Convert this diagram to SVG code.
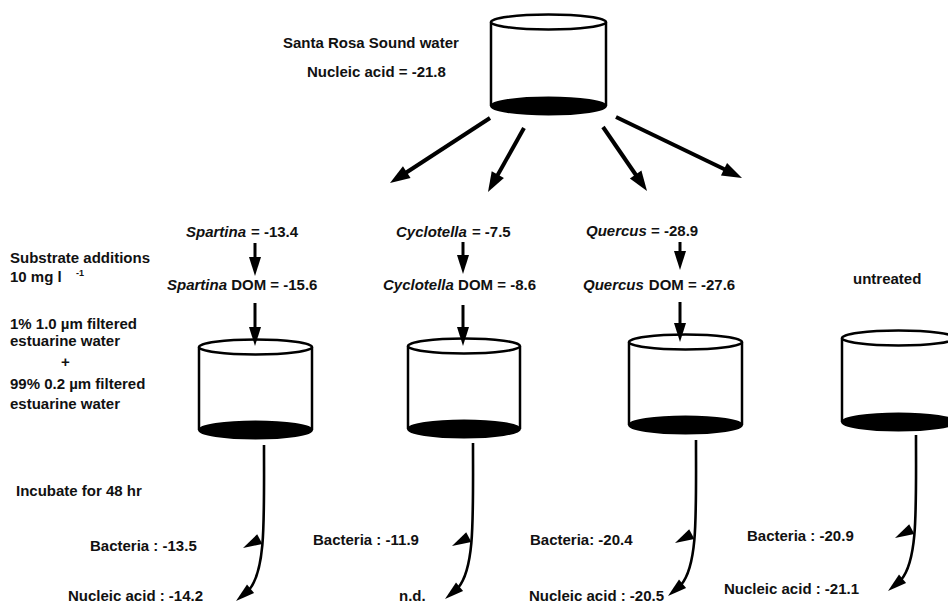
<svg xmlns="http://www.w3.org/2000/svg" xmlns:xlink="http://www.w3.org/1999/xlink" width="948" height="605" viewBox="0 0 948 605">
<style>
  text { font-family: "Liberation Sans", Arial, Helvetica, sans-serif; font-size: 15px; font-weight: bold; fill: #111; }
  .it { font-style: italic; }
  .sup { font-size: 9px; }
  .cyl-top { fill: #fff; stroke: #000; stroke-width: 2.5; }
  .cyl-side { stroke: #000; stroke-width: 2.5; }
  .cyl-bot { fill: #000; stroke: #000; stroke-width: 2; }
  .shaft { stroke: #000; stroke-width: 4; fill: none; }
  .vshaft { stroke: #000; stroke-width: 3; fill: none; }
  .curve { stroke: #000; stroke-width: 2.6; fill: none; }
</style>
<defs>
  <path id="ah" d="M0,0 L-20,-7 L-20,7 Z" fill="#000"/>
  <path id="vah" d="M0,0 L-19,-6 L-19,6 Z" fill="#000"/>
  <path id="cah" d="M0,0 L-19,-5.5 L-19,5.5 Z" fill="#000"/>
  <g id="flow">
    <path class="curve" d="M0,0 C0,75 2,125 -15,145"/>
    <use xlink:href="#cah" transform="translate(-21,103) rotate(152)"/>
    <use xlink:href="#cah" transform="translate(-28,156) rotate(140)"/>
  </g>
</defs>

<g id="source">
  <line class="cyl-side" x1="491" y1="22" x2="491" y2="106"/>
  <line class="cyl-side" x1="606" y1="22" x2="606" y2="106"/>
  <ellipse class="cyl-top" cx="548.5" cy="22" rx="57.5" ry="7.5"/>
  <ellipse class="cyl-bot" cx="548.5" cy="106" rx="57.5" ry="8.5"/>
  <text x="283" y="48">Santa Rosa Sound water</text>
  <text x="307" y="77">Nucleic acid = -21.8</text>
</g>

<g id="labels-left">
  <text x="10" y="263">Substrate additions</text>
  <text x="10" y="282">10 mg l</text>
  <text class="sup" x="76" y="276">-1</text>
  <text x="10" y="329">1% 1.0 µm filtered</text>
  <text x="10" y="346">estuarine water</text>
  <text x="61" y="367">+</text>
  <text x="10" y="389">99% 0.2 µm filtered</text>
  <text x="10" y="409">estuarine water</text>
  <text x="16" y="496">Incubate for 48 hr</text>
</g>

<g id="spartina">
  <text x="186" y="237"><tspan class="it">Spartina</tspan><tspan dx="5">= -13.4</tspan></text>
  <text x="167" y="290"><tspan class="it">Spartina</tspan> DOM = -15.6</text>
  <line class="cyl-side" x1="199" y1="347" x2="199" y2="430"/>
  <line class="cyl-side" x1="312" y1="347" x2="312" y2="430"/>
  <ellipse class="cyl-top" cx="255.5" cy="347" rx="56.5" ry="7.5"/>
  <ellipse class="cyl-bot" cx="255.5" cy="430" rx="56.5" ry="8.5"/>
  <text x="90" y="551">Bacteria : -13.5</text>
  <text x="68" y="601">Nucleic acid : -14.2</text>
</g>

<g id="cyclotella">
  <text x="396" y="237"><tspan class="it">Cyclotella</tspan><tspan dx="5">= -7.5</tspan></text>
  <text x="383" y="290"><tspan class="it">Cyclotella</tspan> DOM = -8.6</text>
  <line class="cyl-side" x1="408" y1="346" x2="408" y2="429"/>
  <line class="cyl-side" x1="520" y1="346" x2="520" y2="429"/>
  <ellipse class="cyl-top" cx="464" cy="346" rx="56" ry="7.5"/>
  <ellipse class="cyl-bot" cx="464" cy="429" rx="56" ry="8.5"/>
  <text x="313" y="545">Bacteria : -11.9</text>
  <text x="399" y="601">n.d.</text>
</g>

<g id="quercus">
  <text x="586" y="236"><tspan class="it">Quercus</tspan> = -28.9</text>
  <text x="583" y="290"><tspan class="it">Quercus</tspan><tspan dx="5">DOM = -27.6</tspan></text>
  <line class="cyl-side" x1="629" y1="342" x2="629" y2="425"/>
  <line class="cyl-side" x1="742" y1="342" x2="742" y2="425"/>
  <ellipse class="cyl-top" cx="685.5" cy="342" rx="56.5" ry="7.5"/>
  <ellipse class="cyl-bot" cx="685.5" cy="425" rx="56.5" ry="8.5"/>
  <text x="530" y="545">Bacteria: -20.4</text>
  <text x="529" y="601">Nucleic acid : -20.5</text>
</g>

<g id="untreated">
  <text x="853" y="284">untreated</text>
  <line class="cyl-side" x1="842" y1="338" x2="842" y2="422"/>
  <line class="cyl-side" x1="955" y1="338" x2="955" y2="422"/>
  <ellipse class="cyl-top" cx="898.5" cy="338" rx="56.5" ry="7.5"/>
  <ellipse class="cyl-bot" cx="898.5" cy="422" rx="56.5" ry="8.5"/>
  <text x="747" y="541">Bacteria : -20.9</text>
  <text x="724" y="594">Nucleic acid : -21.1</text>
</g>

<g id="connectors">
  <line class="shaft" x1="490" y1="118" x2="404" y2="174"/>
  <use xlink:href="#ah" transform="translate(390,183) rotate(146.9)"/>
  <line class="shaft" x1="524" y1="128" x2="496" y2="178"/>
  <use xlink:href="#ah" transform="translate(488,192) rotate(119.4)"/>
  <line class="shaft" x1="603" y1="127" x2="638" y2="178"/>
  <use xlink:href="#ah" transform="translate(647,191) rotate(55.4)"/>
  <line class="shaft" x1="616" y1="117" x2="726" y2="170"/>
  <use xlink:href="#ah" transform="translate(742,178) rotate(25.8)"/>
  <line class="vshaft" x1="255" y1="243" x2="255" y2="260"/>
  <use xlink:href="#vah" transform="translate(255,276) rotate(90)"/>
  <line class="vshaft" x1="255" y1="303" x2="255" y2="330"/>
  <use xlink:href="#vah" transform="translate(255,346) rotate(90)"/>
  <line class="vshaft" x1="463" y1="242" x2="463" y2="258"/>
  <use xlink:href="#vah" transform="translate(463,274) rotate(90)"/>
  <line class="vshaft" x1="463" y1="305" x2="463" y2="330"/>
  <use xlink:href="#vah" transform="translate(463,346) rotate(90)"/>
  <line class="vshaft" x1="680" y1="242" x2="680" y2="255"/>
  <use xlink:href="#vah" transform="translate(680,270) rotate(90)"/>
  <line class="vshaft" x1="680" y1="302" x2="680" y2="326"/>
  <use xlink:href="#vah" transform="translate(680,342) rotate(90)"/>
  <use xlink:href="#flow" transform="translate(264,445)"/>
  <use xlink:href="#flow" transform="translate(473,443)"/>
  <use xlink:href="#flow" transform="translate(696,440)"/>
  <use xlink:href="#flow" transform="translate(916,435)"/>
</g>
</svg>
